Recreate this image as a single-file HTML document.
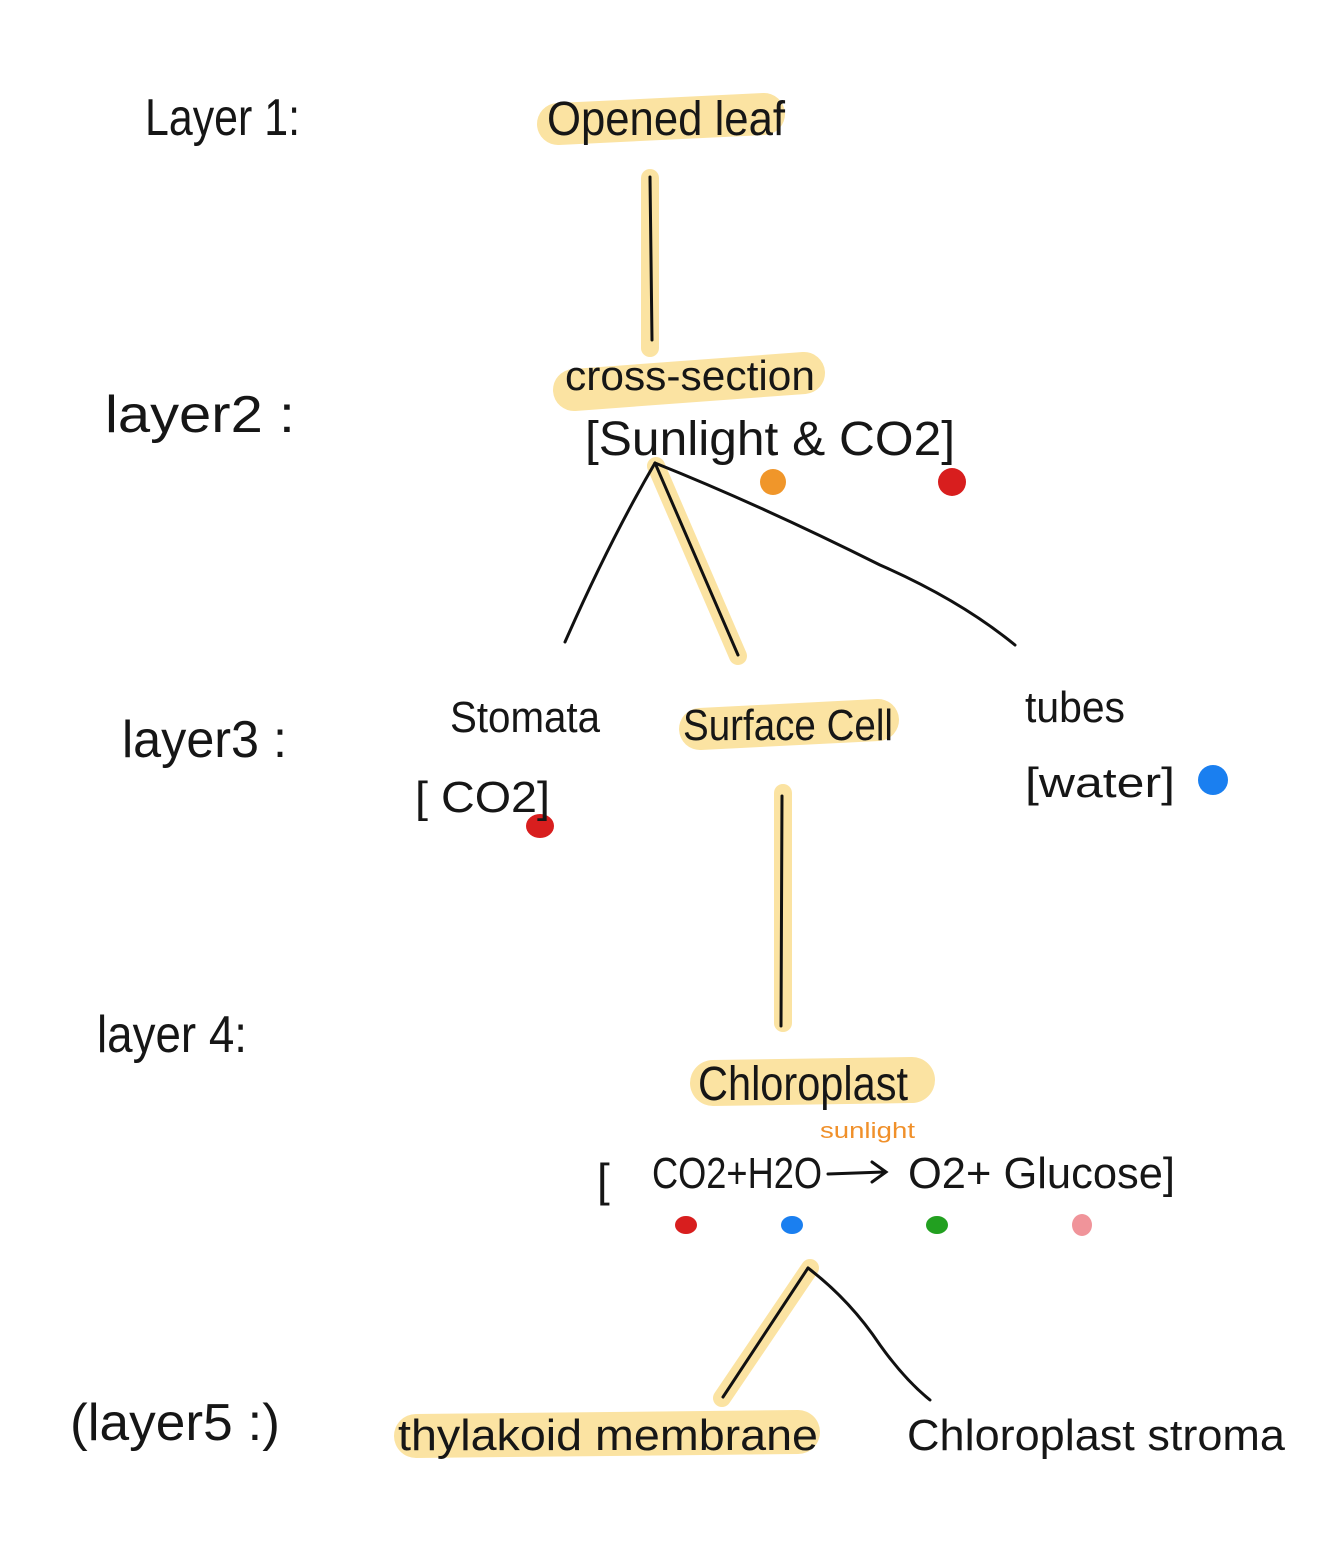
<!DOCTYPE html>
<html><head><meta charset="utf-8">
<style>
html,body{margin:0;padding:0;background:#fff;}
svg{display:block;}
text{font-family:"Liberation Sans",sans-serif;fill:#161616;}
</style></head>
<body>
<svg width="1317" height="1564" viewBox="0 0 1317 1564" xmlns="http://www.w3.org/2000/svg">
<rect width="1317" height="1564" fill="#fff"/>
<!-- highlights -->
<g stroke="#fbe3a2" stroke-linecap="round" fill="none">
  <line x1="558" y1="124" x2="764" y2="114" stroke-width="42"/>
  <line x1="650" y1="178" x2="650" y2="348" stroke-width="18"/>
  <line x1="574" y1="390" x2="804" y2="373" stroke-width="42"/>
  <line x1="656" y1="466" x2="738" y2="656" stroke-width="18"/>
  <line x1="700" y1="729" x2="878" y2="720" stroke-width="42"/>
  <line x1="783" y1="793" x2="783" y2="1023" stroke-width="18"/>
  <line x1="713" y1="1083" x2="912" y2="1080" stroke-width="46"/>
  <line x1="810" y1="1268" x2="722" y2="1398" stroke-width="18"/>
  <line x1="416" y1="1436" x2="798" y2="1432" stroke-width="44"/>
</g>
<!-- connectors -->
<g stroke="#111" stroke-width="3" fill="none" stroke-linecap="round">
  <path d="M650 177 L652 340"/>
  <path d="M655 463 Q610 540 565 642"/>
  <path d="M655 463 L738 655"/>
  <path d="M655 463 Q760 505 880 565 Q960 600 1015 645"/>
  <path d="M782 796 L781 1026"/>
  <path d="M808 1268 L723 1397"/>
  <path d="M808 1268 Q850 1300 880 1345 Q905 1380 930 1400"/>
  <path d="M828 1174 L884 1172"/>
  <path d="M872 1162 L886 1172 L872 1182"/>
</g>
<!-- dots -->
<circle cx="773" cy="482" r="13" fill="#f0962a"/>
<circle cx="952" cy="482" r="14" fill="#d81e1e"/>
<ellipse cx="540" cy="826" rx="14" ry="12" fill="#d81e1e"/>
<circle cx="1213" cy="780" r="15" fill="#1a7ff0"/>
<ellipse cx="686" cy="1225" rx="11" ry="9" fill="#d81e1e"/>
<ellipse cx="792" cy="1225" rx="11" ry="9" fill="#1a7ff0"/>
<ellipse cx="937" cy="1225" rx="11" ry="9" fill="#22a020"/>
<ellipse cx="1082" cy="1225" rx="10" ry="11" fill="#f0949a"/>
<!-- labels -->
<g font-weight="normal">
<text x="145" y="135" font-size="52" textLength="155" lengthAdjust="spacingAndGlyphs">Layer 1:</text>
<text x="547" y="135" font-size="48" textLength="238" lengthAdjust="spacingAndGlyphs">Opened leaf</text>
<text x="105" y="432" font-size="52" textLength="190" lengthAdjust="spacingAndGlyphs">layer2 :</text>
<text x="565" y="390" font-size="42" textLength="250" lengthAdjust="spacingAndGlyphs">cross-section</text>
<text x="585" y="455" font-size="48" textLength="370" lengthAdjust="spacingAndGlyphs">[Sunlight &amp; CO2]</text>
<text x="122" y="757" font-size="52" textLength="165" lengthAdjust="spacingAndGlyphs">layer3 :</text>
<text x="450" y="732" font-size="44" textLength="150" lengthAdjust="spacingAndGlyphs">Stomata</text>
<text x="683" y="740" font-size="44" textLength="210" lengthAdjust="spacingAndGlyphs">Surface Cell</text>
<text x="1025" y="722" font-size="44" textLength="100" lengthAdjust="spacingAndGlyphs">tubes</text>
<text x="415" y="812" font-size="44" textLength="135" lengthAdjust="spacingAndGlyphs">[ CO2]</text>
<text x="1025" y="797" font-size="42" textLength="150" lengthAdjust="spacingAndGlyphs">[water]</text>
<text x="97" y="1052" font-size="52" textLength="150" lengthAdjust="spacingAndGlyphs">layer 4:</text>
<text x="698" y="1100" font-size="48" textLength="210" lengthAdjust="spacingAndGlyphs">Chloroplast</text>
<text x="820" y="1138" font-size="22" textLength="95" lengthAdjust="spacingAndGlyphs" style="fill:#f0902a">sunlight</text>
<text x="597" y="1196" font-size="46">[</text>
<text x="652" y="1188" font-size="44" textLength="170" lengthAdjust="spacingAndGlyphs">CO2+H2O</text>
<text x="908" y="1188" font-size="44" textLength="267" lengthAdjust="spacingAndGlyphs">O2+ Glucose]</text>
<text x="70" y="1440" font-size="52" textLength="210" lengthAdjust="spacingAndGlyphs">(layer5 :)</text>
<text x="398" y="1450" font-size="44" textLength="420" lengthAdjust="spacingAndGlyphs">thylakoid membrane</text>
<text x="907" y="1450" font-size="44" textLength="378" lengthAdjust="spacingAndGlyphs">Chloroplast stroma</text>
</g>
</svg>
</body></html>
